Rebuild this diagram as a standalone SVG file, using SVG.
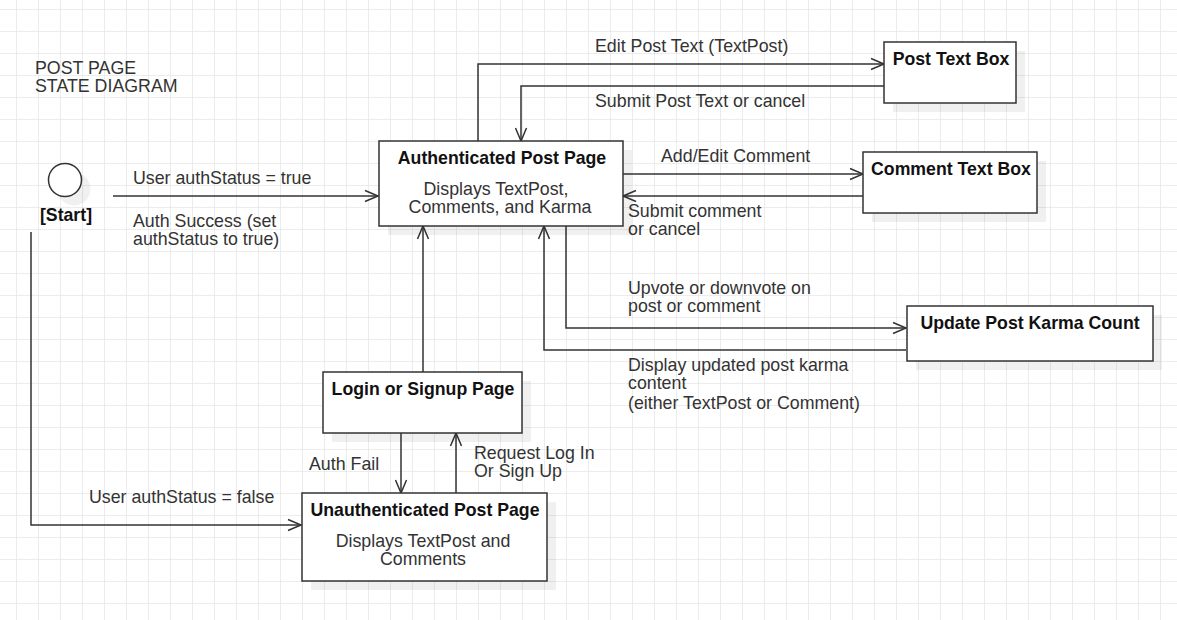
<svg xmlns="http://www.w3.org/2000/svg" width="1177" height="620" viewBox="0 0 1177 620">
<style>
  text { font-family: "Liberation Sans", Arial, sans-serif; font-size: 17.8px; fill: #333; }
  .b { font-weight: bold; fill: #111; font-size: 17.7px; }
  .c { text-anchor: middle; }
  .box { fill: #fff; stroke: #333; stroke-width: 1.5; }
  .sh { fill: #000; fill-opacity: 0.06; }
  .edge { fill: none; stroke: #333; stroke-width: 1.5; }
</style>
<defs>
  <pattern id="grid" x="16" y="9" width="22" height="22" patternUnits="userSpaceOnUse">
    <path d="M0,0 H22 M0,0 V22" stroke="#e6e6e6" stroke-width="1.5" fill="none"/>
  </pattern>
  <marker id="arr" markerUnits="userSpaceOnUse" markerWidth="16" markerHeight="14" refX="14" refY="7" orient="auto">
    <path d="M1,1.5 L14,7 L1,12.5" fill="none" stroke="#333" stroke-width="1.5"/>
  </marker>
</defs>
<rect width="1177" height="620" fill="#fff"/>
<rect width="1177" height="620" fill="url(#grid)"/>

<text x="35" y="74">POST PAGE</text>
<text x="35" y="92">STATE DIAGRAM</text>

<g id="connectors">
  <path class="edge" d="M113,196 H378" marker-end="url(#arr)"/>
  <path class="edge" d="M31,232 V525 H301" marker-end="url(#arr)"/>
  <path class="edge" d="M478,141 V64 H884" marker-end="url(#arr)"/>
  <path class="edge" d="M884,86 H521 V141" marker-end="url(#arr)"/>
  <path class="edge" d="M623,174 H863" marker-end="url(#arr)"/>
  <path class="edge" d="M863,196 H623" marker-end="url(#arr)"/>
  <path class="edge" d="M566,226 V328 H906" marker-end="url(#arr)"/>
  <path class="edge" d="M906,350 H544 V226" marker-end="url(#arr)"/>
  <path class="edge" d="M423,372 V226" marker-end="url(#arr)"/>
  <path class="edge" d="M401,433 V493" marker-end="url(#arr)"/>
  <path class="edge" d="M456,493 V433" marker-end="url(#arr)"/>

  <text x="133" y="184">User authStatus = true</text>
  <text x="133" y="227">Auth Success (set</text>
  <text x="133" y="245">authStatus to true)</text>
  <text x="89" y="503">User authStatus = false</text>
  <text x="595" y="52">Edit Post Text (TextPost)</text>
  <text x="595" y="107">Submit Post Text or cancel</text>
  <text x="661" y="162">Add/Edit Comment</text>
  <text x="628" y="217">Submit comment</text>
  <text x="628" y="235">or cancel</text>
  <text x="628" y="294">Upvote or downvote on</text>
  <text x="628" y="312">post or comment</text>
  <text x="628" y="371">Display updated post karma</text>
  <text x="628" y="389">content</text>
  <text x="628" y="409">(either TextPost or Comment)</text>
  <text x="309" y="470">Auth Fail</text>
  <text x="474" y="459">Request Log In</text>
  <text x="474" y="477">Or Sign Up</text>
</g>

<g id="start">
  <circle class="sh" cx="74" cy="189" r="16.5"/>
  <circle cx="65" cy="180" r="16.5" fill="#fff" stroke="#333" stroke-width="1.5"/>
  <text class="b c" x="66" y="221">[Start]</text>
</g>

<g id="auth-post-page">
  <rect class="sh" x="388" y="150" width="244" height="85"/>
  <rect class="box" x="379" y="141" width="244" height="85"/>
  <text class="b c" x="502" y="164">Authenticated Post Page</text>
  <text class="c" x="496" y="195">Displays TextPost,</text>
  <text class="c" x="500" y="213">Comments, and Karma</text>
</g>

<g id="post-text-box">
  <rect class="sh" x="893" y="51" width="132" height="61"/>
  <rect class="box" x="884" y="42" width="132" height="61"/>
  <text class="b c" x="951" y="65">Post Text Box</text>
</g>

<g id="comment-text-box">
  <rect class="sh" x="872" y="161" width="174" height="61"/>
  <rect class="box" x="863" y="152" width="174" height="61"/>
  <text class="b c" x="951" y="175">Comment Text Box</text>
</g>

<g id="update-karma">
  <rect class="sh" x="916" y="315" width="246" height="55"/>
  <rect class="box" x="907" y="306" width="246" height="55"/>
  <text class="b c" x="1030" y="329">Update Post Karma Count</text>
</g>

<g id="login-signup">
  <rect class="sh" x="332" y="381" width="199" height="61"/>
  <rect class="box" x="323" y="372" width="199" height="61"/>
  <text class="b c" x="423" y="395">Login or Signup Page</text>
</g>

<g id="unauth-post-page">
  <rect class="sh" x="311" y="502" width="245" height="88"/>
  <rect class="box" x="302" y="493" width="245" height="88"/>
  <text class="b c" x="425" y="516">Unauthenticated Post Page</text>
  <text class="c" x="423" y="547">Displays TextPost and</text>
  <text class="c" x="423" y="565">Comments</text>
</g>
</svg>
